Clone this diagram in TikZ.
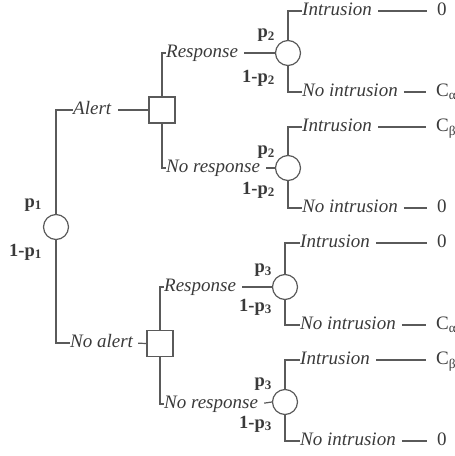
\documentclass[tikz,border=0pt]{standalone}
\usepackage{fontspec}
\setmainfont{Liberation Serif}
\definecolor{ink}{HTML}{3A3A3A}
\definecolor{wire}{HTML}{5A5A5A}
\begin{document}
\begin{tikzpicture}[x=1pt,y=-1pt,
  every node/.style={text=ink},
  chance/.style={circle, draw=wire, line width=1.2pt, minimum size=25pt, inner sep=0pt},
  decision/.style={rectangle, draw=wire, line width=1.2pt, minimum size=26pt, inner sep=0pt},
  lab/.style={font=\fontsize{19}{21}\selectfont\itshape, inner sep=0pt, anchor=west, text height=13.3pt, text depth=3.8pt},
  pay/.style={font=\fontsize{19}{21}\selectfont, inner sep=0pt, anchor=west, text height=13.3pt, text depth=3.8pt},
  prob/.style={font=\fontsize{18.5}{20}\selectfont\bfseries, inner sep=0pt, anchor=east},
  wirestyle/.style={draw=wire, line width=1.2pt},
  gap/.style={shorten <=6pt},
  gapboth/.style={shorten <=6pt, shorten >=10pt}
]
\useasboundingbox (0,0) rectangle (455,456);
% root
\node[chance] (c1) at (56,227) {};
\node[prob] (pp1) at (42,205) {p\textsubscript{1}};
\node[prob] (qp1) at (42,252) {1-p\textsubscript{1}};
\node[lab] (alert) at (73,110) {Alert};
\node[lab] (noalert) at (70,343) {No alert};
\node[decision] (d1) at (162,110) {};
\node[decision] (d2) at (160,343.5) {};
% second level
\node[lab] (r1) at (166,53) {Response};
\node[lab] (nr1) at (166,168) {No response};
\node[lab] (r2) at (164,287) {Response};
\node[lab] (nr2) at (164,404) {No response};
\node[chance] (c2) at (288,53) {};
\node[chance] (c3) at (288,168) {};
\node[chance] (c4) at (285,287) {};
\node[chance] (c5) at (285,402) {};
\node[prob] (pp2a) at (275,35) {p\textsubscript{2}};
\node[prob] (qp2a) at (275,78) {1-p\textsubscript{2}};
\node[prob] (pp2b) at (275,152) {p\textsubscript{2}};
\node[prob] (qp2b) at (275,190) {1-p\textsubscript{2}};
\node[prob] (pp3a) at (272,270) {p\textsubscript{3}};
\node[prob] (qp3a) at (272,307) {1-p\textsubscript{3}};
\node[prob] (pp3b) at (272,384) {p\textsubscript{3}};
\node[prob] (qp3b) at (272,424) {1-p\textsubscript{3}};
% outcomes
\node[lab] (i1) at (302,11) {Intrusion};
\node[lab] (n1) at (302,92) {No intrusion};
\node[lab] (i2) at (302,127) {Intrusion};
\node[lab] (n2) at (302,208) {No intrusion};
\node[lab] (i3) at (300,243) {Intrusion};
\node[lab] (n3) at (300,325) {No intrusion};
\node[lab] (i4) at (300,360) {Intrusion};
\node[lab] (n4) at (300,441) {No intrusion};
\node[pay] (v1) at (437,11) {0};
\node[pay] (v2) at (436,92) {C\textsubscript{α}};
\node[pay] (v3) at (436,127) {C\textsubscript{β}};
\node[pay] (v4) at (437,208) {0};
\node[pay] (v5) at (437,243) {0};
\node[pay] (v6) at (436,325) {C\textsubscript{α}};
\node[pay] (v7) at (436,360) {C\textsubscript{β}};
\node[pay] (v8) at (437,441) {0};
% connectors
\draw[wirestyle] (c1.north) |- (alert.west);
\draw[wirestyle] (c1.south) |- (noalert.west);
\draw[wirestyle, shorten <=7pt] (alert.east) -- (d1.west);
\draw[wirestyle, shorten <=5pt] (noalert.east) -- (d2.west);
\draw[wirestyle] (d1.north) |- (r1.west);
\draw[wirestyle] (d1.south) |- (nr1.west);
\draw[wirestyle] (d2.north) |- (r2.west);
\draw[wirestyle] (d2.south) |- (nr2.west);
\draw[wirestyle, gap] (r1.east) -- (c2.west);
\draw[wirestyle, gap] (nr1.east) -- (c3.west);
\draw[wirestyle, gap] (r2.east) -- (c4.west);
\draw[wirestyle, gap] (nr2.east) -- (c5.west);
\draw[wirestyle] (c2.north) |- (i1.west);
\draw[wirestyle] (c2.south) |- (n1.west);
\draw[wirestyle] (c3.north) |- (i2.west);
\draw[wirestyle] (c3.south) |- (n2.west);
\draw[wirestyle] (c4.north) |- (i3.west);
\draw[wirestyle] (c4.south) |- (n3.west);
\draw[wirestyle] (c5.north) |- (i4.west);
\draw[wirestyle] (c5.south) |- (n4.west);
\draw[wirestyle, gapboth] (i1.east) -- (v1.west);
\draw[wirestyle, gapboth] (n1.east) -- (v2.west);
\draw[wirestyle, gapboth] (i2.east) -- (v3.west);
\draw[wirestyle, gapboth] (n2.east) -- (v4.west);
\draw[wirestyle, gapboth] (i3.east) -- (v5.west);
\draw[wirestyle, gapboth] (n3.east) -- (v6.west);
\draw[wirestyle, gapboth] (i4.east) -- (v7.west);
\draw[wirestyle, gapboth] (n4.east) -- (v8.west);
\end{tikzpicture}
\end{document}
